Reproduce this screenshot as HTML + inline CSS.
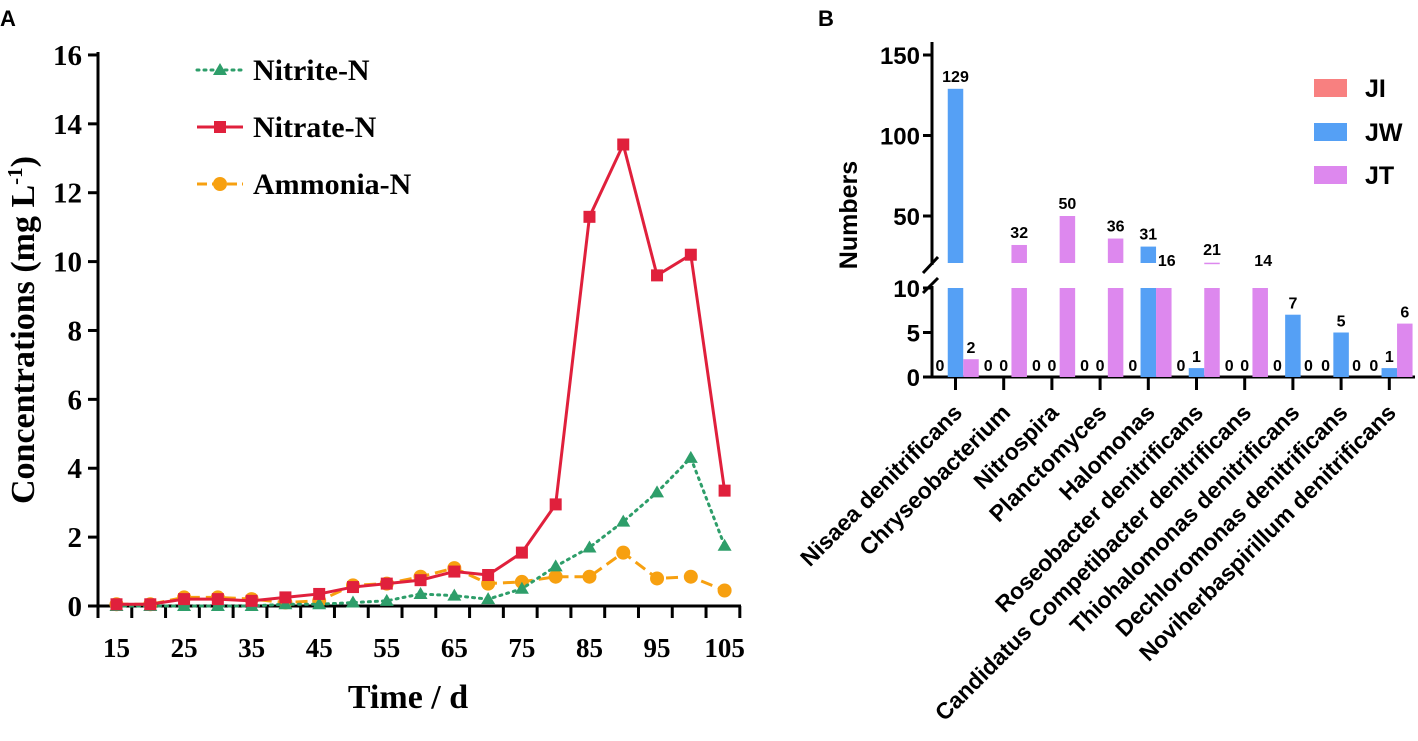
<!DOCTYPE html>
<html><head><meta charset="utf-8"><style>
body{margin:0;background:#fff;}
svg{display:block;}
.serif{font-family:"Liberation Serif",serif;font-weight:bold;}
.sans{font-family:"Liberation Sans",sans-serif;font-weight:bold;}
</style></head><body>
<svg id="svg" width="1418" height="741" xmlns="http://www.w3.org/2000/svg">
<text x="0" y="26" class="sans" font-size="22">A</text>
<text x="818" y="26" class="sans" font-size="22">B</text>
<g id="A"></g>
<g id="B"></g>
</svg>
<script>
const NS="http://www.w3.org/2000/svg";
const days=[15,20,25,30,35,40,45,50,55,60,65,70,75,80,85,90,95,100,105];
const nitrite=[0,0,0,0,0,0.05,0.05,0.1,0.15,0.35,0.3,0.2,0.5,1.15,1.7,2.45,3.3,4.3,1.75];
const nitrate=[0.05,0.05,0.2,0.2,0.15,0.25,0.35,0.55,0.65,0.75,1.0,0.9,1.55,2.95,11.3,13.4,9.6,10.2,3.35];
const ammonia=[0.05,0.05,0.25,0.25,0.2,0.1,0.15,0.6,0.65,0.85,1.1,0.65,0.7,0.85,0.85,1.55,0.8,0.85,0.45];
const yTicksA=[0,2,4,6,8,10,12,14,16];
const xLabelsA=[15,25,35,45,55,65,75,85,95,105];

const categories=["Nisaea denitrificans","Chryseobacterium","Nitrospira","Planctomyces","Halomonas","Roseobacter denitrificans","Candidatus Competibacter denitrificans","Thiohalomonas denitrificans","Dechloromonas denitrificans","Noviherbaspirillum denitrificans"];
const JI=[0,0,0,0,0,0,0,0,0,0];
const JW=[129,0,0,0,31,1,0,7,5,1];
const JT=[2,32,50,36,16,21,14,0,0,6];
const yTicksBLow=[0,5,10];
const yTicksBHigh=[50,100,150];

function el(parent,tag,attrs,text){const e=document.createElementNS(NS,tag);for(const k in attrs)e.setAttribute(k,attrs[k]);if(text!==undefined)e.textContent=text;parent.appendChild(e);return e;}

// Panel A
const A=document.getElementById('A');
const xA=d=>116.5+(d-15)*(608.1/90);
const yA=v=>606-v*34.44;
el(A,'line',{x1:98,y1:52,x2:98,y2:607,stroke:'#000','stroke-width':3});
el(A,'line',{x1:97,y1:606,x2:741,y2:606,stroke:'#000','stroke-width':3});
yTicksA.forEach(t=>{
  el(A,'line',{x1:88,y1:yA(t),x2:98,y2:yA(t),stroke:'#000','stroke-width':3});
  const tx=el(A,'text',{x:82,y:yA(t)+10,'text-anchor':'end','font-size':29,class:'serif'},t);
  
  
});
for(let k=0;k<=19;k++){const x=98+k*33.78;el(A,'line',{x1:x,y1:606,x2:x,y2:618,stroke:'#000','stroke-width':3});}
xLabelsA.forEach(d=>{
  const tx=el(A,'text',{x:xA(d),y:657,'text-anchor':'middle','font-size':27,class:'serif'},d);
  
  
});
const yt=el(A,'text',{transform:'translate(34,330) rotate(-90)','text-anchor':'middle','font-size':34,class:'serif'});
yt.innerHTML='Concentrations (mg L<tspan dy="-12" font-size="21">-1</tspan><tspan dy="12">)</tspan>';


const xt=el(A,'text',{x:408,y:708,'text-anchor':'middle','font-size':34,class:'serif'},'Time / d');



function series(vals,color,dash,marker,name){
  const g=el(A,'g',{});
  
  
  const pts=vals.map((v,i)=>xA(days[i])+','+yA(v)).join(' ');
  el(g,'polyline',{points:pts,fill:'none',stroke:color,'stroke-width':3,'stroke-dasharray':dash==='dot'?'2 5':dash==='dash'?'12 6':'none','stroke-linecap':dash==='dot'?'round':'butt'});
  vals.forEach((v,i)=>drawMarker(g,xA(days[i]),yA(v),marker,color));
}
function drawMarker(g,x,y,m,c){
  if(m==='tri')el(g,'polygon',{points:`${x},${y-7} ${x-7},${y+5} ${x+7},${y+5}`,fill:c});
  else if(m==='sq')el(g,'rect',{x:x-6,y:y-6,width:12,height:12,fill:c});
  else el(g,'circle',{cx:x,cy:y,r:7,fill:c});
}
series(ammonia,'#f7a010','dash','circ','ammonia-series');
series(nitrite,'#2e9e6a','dot','tri','nitrite-series');
series(nitrate,'#e0203c','solid','sq','nitrate-series');
[['Nitrite-N','#2e9e6a','dot','tri',70],['Nitrate-N','#e0203c','solid','sq',127],['Ammonia-N','#f7a010','dash','circ',184]].forEach(l=>{
  const g=el(A,'g',{});
  
  
  el(g,'line',{x1:197,y1:l[4],x2:243,y2:l[4],stroke:l[1],'stroke-width':3,'stroke-dasharray':l[2]==='dot'?'2 5':l[2]==='dash'?'10 5':'none','stroke-linecap':l[2]==='dot'?'round':'butt'});
  drawMarker(g,220,l[4],l[3],l[1]);
  el(g,'text',{x:253,y:l[4]+10,'font-size':30,class:'serif'},l[0]);
});

// Panel B
const B=document.getElementById('B');
const yLow=v=>377-v*8.9;
const yHigh=v=>216-(v-50)*1.61;
const TOP_MIN=20;
const xB=i=>955.5+i*48.2;
const BW=15.5;
el(B,'line',{x1:932,y1:42,x2:932,y2:265,stroke:'#000','stroke-width':3});
el(B,'line',{x1:932,y1:286,x2:932,y2:378,stroke:'#000','stroke-width':3});
el(B,'line',{x1:923,y1:273,x2:938,y2:257,stroke:'#000','stroke-width':3});
el(B,'line',{x1:923,y1:293,x2:938,y2:278,stroke:'#000','stroke-width':3});
el(B,'line',{x1:931,y1:377,x2:1415,y2:377,stroke:'#000','stroke-width':3});
yTicksBHigh.forEach(t=>{el(B,'line',{x1:923,y1:yHigh(t),x2:932,y2:yHigh(t),stroke:'#000','stroke-width':3});
  const tx=el(B,'text',{x:920,y:yHigh(t)+9,'text-anchor':'end','font-size':24,class:'sans'},t);
  });
yTicksBLow.forEach(t=>{el(B,'line',{x1:923,y1:yLow(t),x2:932,y2:yLow(t),stroke:'#000','stroke-width':3});
  const tx=el(B,'text',{x:920,y:yLow(t)+9,'text-anchor':'end','font-size':24,class:'sans'},t);
  });
const nb=el(B,'text',{transform:'translate(857,215) rotate(-90)','text-anchor':'middle','font-size':25,class:'sans'},'Numbers');

const colors=['#f88080','#55a0f5','#dd88ee'];
[JI,JW,JT].forEach((arr,s)=>{
  arr.forEach((v,i)=>{
    const cx=xB(i)+(s-1)*BW;
    if(v>0){
      const r=el(B,'rect',{x:cx-BW/2,y:yLow(Math.min(v,10)),width:BW,height:yLow(0)-yLow(Math.min(v,10)),fill:colors[s]});
      
      if(v>TOP_MIN){
        const r2=el(B,'rect',{x:cx-BW/2,y:yHigh(v),width:BW,height:Math.max(1.5,263-yHigh(v)),fill:colors[s]});
        
      }
    }
    let ly;
    if(v<=10)ly=yLow(v)-6;else if(v>TOP_MIN)ly=Math.min(yHigh(v),262)-7;else ly=266;
    const tx=el(B,'text',{x:cx+(v>10&&v<=TOP_MIN?3:0),y:ly,'text-anchor':'middle','font-size':16,class:'sans'},v);
    
  });
});
categories.forEach((c,i)=>{
  el(B,'line',{x1:xB(i),y1:377,x2:xB(i),y2:390,stroke:'#000','stroke-width':3});
  const tx=el(B,'text',{transform:`translate(${xB(i)+8},${414}) rotate(-45)`,'text-anchor':'end','font-size':23,class:'sans'},c);
  
});
[['JI',88],['JW',132],['JT',175]].forEach((l,s)=>{
  const g=el(B,'g',{});
  
  
  el(g,'rect',{x:1314,y:l[1]-9,width:33,height:18,fill:colors[s]});
  el(g,'text',{x:1365,y:l[1]+9,'font-size':25,class:'sans'},l[0]);
});
</script>
</body></html>
